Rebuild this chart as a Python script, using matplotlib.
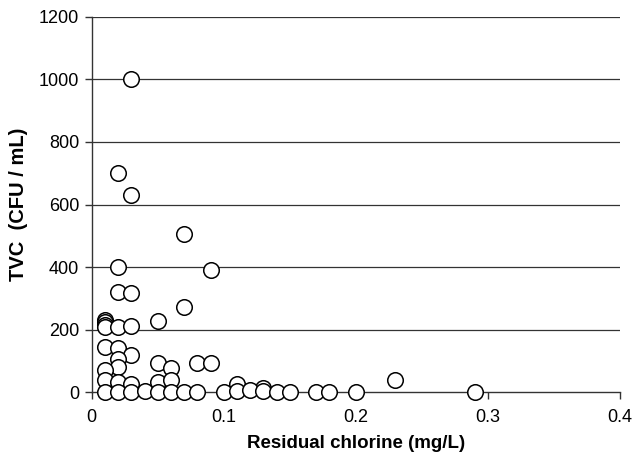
import matplotlib
matplotlib.use("Agg")
import matplotlib.pyplot as plt

plt.rcParams['font.family'] = ['Liberation Sans', 'DejaVu Sans']

# residual chlorine (mg/L) and TVC (CFU/mL)
chlorine = [0.03, 0.02, 0.03, 0.07, 0.02, 0.09, 0.02, 0.03, 0.07,
            0.01, 0.01, 0.01, 0.01, 0.02, 0.03, 0.05,
            0.01, 0.02, 0.03, 0.02, 0.02, 0.01, 0.01, 0.02, 0.03,
            0.05, 0.06, 0.08, 0.09, 0.05, 0.06, 0.11, 0.13, 0.23,
            0.01, 0.02, 0.03, 0.04, 0.05, 0.06, 0.07, 0.08, 0.10, 0.11,
            0.12, 0.13, 0.14, 0.15, 0.17, 0.18, 0.20, 0.29]
tvc = [1000, 700, 630, 507, 400, 390, 321, 316, 273,
       232, 224, 216, 208, 209, 212, 228,
       145, 142, 120, 105, 80, 70, 40, 33, 26,
       94, 76, 94, 94, 33, 38, 26, 14, 40,
       0, 0, 0, 2, 0, 0, 0, 0, 0, 4,
       6, 2, 0, 0, 0, 0, 0, 0]

xticks = [0, 0.1, 0.2, 0.3, 0.4]
yticks = [0, 200, 400, 600, 800, 1000, 1200]

fig = plt.figure(figsize=(6.33, 4.57), dpi=100)
ax = fig.add_axes([0.145, 0.142, 0.834, 0.821])

for yv in yticks[1:]:
    ax.axhline(yv, color='#333333', lw=0.9, zorder=1)

ax.scatter(chlorine, tvc, s=125, facecolor='white', edgecolor='black',
           linewidth=1.1, zorder=3, clip_on=False)

ax.set_xlim(0, 0.4)
ax.set_ylim(0, 1200)
ax.set_xticks(xticks)
ax.set_xticklabels(['0', '0.1', '0.2', '0.3', '0.4'])
ax.set_yticks(yticks)
ax.tick_params(axis='both', labelsize=13, length=5, width=1, color='#333333')
ax.tick_params(axis='x', pad=7)
ax.tick_params(axis='y', pad=4)

for side in ['top', 'right']:
    ax.spines[side].set_visible(False)
for side in ['left', 'bottom']:
    ax.spines[side].set_color('#333333')
    ax.spines[side].set_linewidth(1)

ax.set_xlabel('Residual chlorine (mg/L)', fontsize=13.5, fontweight='bold', labelpad=7)
ax.set_ylabel('TVC  (CFU / mL)', fontsize=14.5, fontweight='bold', labelpad=8)

fig.savefig('out.png', dpi=100)
